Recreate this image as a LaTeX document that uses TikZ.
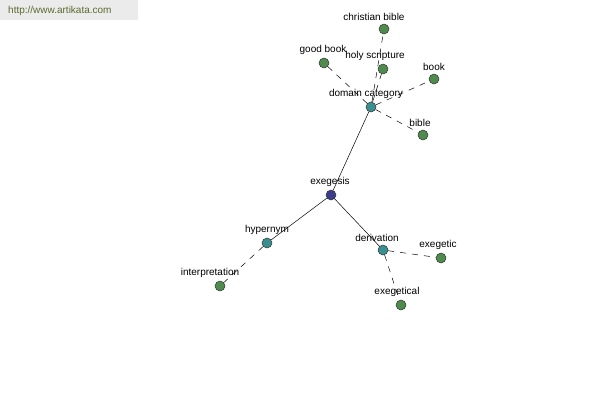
\documentclass[tikz,border=0pt]{standalone}
\usepackage{fontspec}
\setmainfont{Liberation Sans}
\usetikzlibrary{arrows}

\definecolor{leafgreen}{HTML}{4E8B4C}
\definecolor{midteal}{HTML}{3A8F8F}
\definecolor{rootblue}{HTML}{3C3C8C}
\definecolor{labelgray}{HTML}{555555}
\definecolor{wmbg}{HTML}{EBEBEB}
\definecolor{wmtext}{HTML}{5A6B2E}

\begin{document}
\begin{tikzpicture}[x=1pt,y=-1pt]
		\tikzset{vertex/.style = {shape=circle,draw=black!80,line width=0.5pt,minimum size=10pt,inner sep=0pt,
				label distance=1.5pt,
				every label/.style={inner sep=0pt,text=labelgray,font=\fontsize{7.4}{9}\selectfont}}}
		\tikzset{leaf/.style = {vertex,fill=leafgreen}}
		\tikzset{mid/.style = {vertex,fill=midteal}}
		\tikzset{root/.style = {vertex,fill=rootblue}}
		\tikzset{edge/.style = {draw=black,line width=0.5pt}}
		\tikzset{dashedge/.style = {edge,dash pattern=on 6pt off 6pt}}
		\useasboundingbox (0,0) rectangle (600,400);
		% watermark
		\fill[wmbg] (0,0) rectangle (138,20);
		\node[anchor=west,inner sep=0pt,text=wmtext,font=\fontsize{10}{12}\selectfont] (wm) at (8,11) {http://www.artikata.com};
		% vertices
		\node[root,label={[xshift=-1pt]above:exegesis}] (exegesis) at (331,195) {};
		\node[mid,label={[xshift=-5pt]above:domain category}] (domain) at (371,107) {};
		\node[mid,label={above:hypernym}] (hyper) at (267,243) {};
		\node[mid,label={[xshift=-6pt]above:derivation}] (deriv) at (383,250) {};
		\node[leaf,label={[xshift=-10pt]above:christian bible}] (christian) at (384,29) {};
		\node[leaf,label={[xshift=-8pt]above:holy scripture}] (holy) at (383,69) {};
		\node[leaf,label={[xshift=-1pt]above:good book}] (good) at (324,63) {};
		\node[leaf,label={above:book}] (book) at (434,79) {};
		\node[leaf,label={[xshift=-3pt]above:bible}] (bible) at (423,135) {};
		\node[leaf,label={[xshift=-10pt]above:interpretation}] (interp) at (220,286) {};
		\node[leaf,label={[xshift=-3pt]above:exegetic}] (exegetic) at (441,258) {};
		\node[leaf,label={[xshift=-4pt]above:exegetical}] (exegetical) at (401,305) {};
		% edges
		\path[edge] (exegesis) edge (domain);
		\path[edge] (exegesis) edge (hyper);
		\path[edge] (exegesis) edge (deriv);
		\path[dashedge] (domain) edge (christian);
		\path[dashedge] (domain) edge (holy);
		\path[dashedge] (domain) edge (good);
		\path[dashedge] (domain) edge (book);
		\path[dashedge] (domain) edge (bible);
		\path[dashedge] (hyper) edge (interp);
		\path[dashedge] (deriv) edge (exegetic);
		\path[dashedge] (deriv) edge (exegetical);
\end{tikzpicture}
\end{document}
